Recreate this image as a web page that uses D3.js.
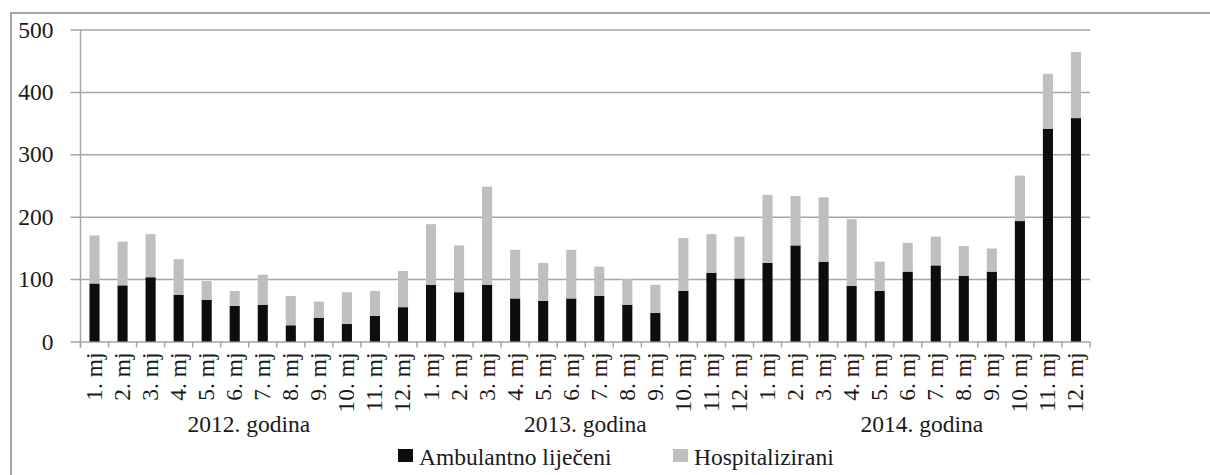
<!DOCTYPE html>
<html>
<head>
<meta charset="utf-8">
<script src="https://cdn.jsdelivr.net/npm/d3@7"></script>
<style>
  body { margin: 0; background: #fff; }
  svg text { font-family: "Liberation Serif", "Times New Roman", "DejaVu Serif", serif; }
</style>
</head>
<body>
<svg id="chart"></svg>
<script>
const years = ["2012. godina", "2013. godina", "2014. godina"];
const months = ["1. mj", "2. mj", "3. mj", "4. mj", "5. mj", "6. mj", "7. mj", "8. mj", "9. mj", "10. mj", "11. mj", "12. mj"];
const ambulantno = [93, 90, 103, 75, 67, 57, 59, 26, 38, 28, 41, 55,
  91, 79, 91, 69, 65, 69, 73, 59, 46, 81, 110, 101,
  126, 154, 128, 89, 81, 112, 122, 105, 112, 193, 341, 358];
const hospitalizirani = [77, 70, 69, 57, 30, 24, 48, 47, 26, 51, 40, 58,
  97, 75, 157, 78, 61, 78, 47, 41, 45, 85, 62, 67,
  109, 79, 103, 107, 47, 46, 46, 48, 37, 73, 88, 106];
const yTicks = [0, 100, 200, 300, 400, 500];

const width = 1210;
const height = 475;
const plotLeft = 80.5, plotRight = 1090, plotTop = 29.5, plotBottom = 341.5;
const serif = "Liberation Serif";
const fontSize = 23.5;
const textColor = "#1a1a1a";
const lineColor = "#a6a6a6";

const rows = [];
years.forEach((yr, yi) => months.forEach((m, mi) => {
  const i = yi * 12 + mi;
  rows.push({ key: i, year: yr, month: m, amb: ambulantno[i], hosp: hospitalizirani[i] });
}));

const svg = d3.select("#chart").attr("width", width).attr("height", height);

// outer frame
svg.append("rect")
  .attr("x", 11).attr("y", 13).attr("width", 1230).attr("height", 500)
  .attr("fill", "none").attr("stroke", lineColor).attr("stroke-width", 2);

const x = d3.scaleBand().domain(rows.map(d => d.key)).range([plotLeft, plotRight]).paddingInner(0.64).paddingOuter(0.32);
const y = d3.scaleLinear().domain([0, 500]).range([plotBottom, plotTop]);

// grid lines + y labels
const yAxis = d3.axisLeft(y).tickValues(yTicks).tickSize(-(plotRight - plotLeft)).tickPadding(27);
const gy = svg.append("g").attr("transform", `translate(${plotLeft},0)`).call(yAxis)
  .attr("font-family", serif);
gy.select(".domain").remove();
gy.selectAll(".tick line").attr("x1", -10).attr("stroke", lineColor).attr("stroke-width", 1.5);
gy.selectAll(".tick text").attr("font-size", fontSize).attr("fill", textColor);

// left axis line
svg.append("line")
  .attr("x1", plotLeft).attr("x2", plotLeft).attr("y1", plotTop).attr("y2", plotBottom + 6)
  .attr("stroke", lineColor).attr("stroke-width", 1.5);

const stack = d3.stack().keys(["amb", "hosp"])(rows);
const colors = { amb: "#0d0d0d", hosp: "#bfbfbf" };

svg.append("g").selectAll("g")
  .data(stack)
  .join("g")
  .attr("fill", s => colors[s.key])
  .selectAll("rect")
  .data(s => s)
  .join("rect")
  .attr("x", d => x(d.data.key))
  .attr("width", x.bandwidth())
  .attr("y", d => y(d[1]))
  .attr("height", d => y(d[0]) - y(d[1]));

// category boundary ticks
const step = x.step();
const boundaries = d3.range(rows.length + 1).map(i => plotLeft + i * step);
svg.append("g").selectAll("line")
  .data(boundaries)
  .join("line")
  .attr("x1", d => d).attr("x2", d => d)
  .attr("y1", plotBottom).attr("y2", plotBottom + 6)
  .attr("stroke", lineColor).attr("stroke-width", 1.5);

// month labels (rotated)
svg.append("g").selectAll("text")
  .data(rows)
  .join("text")
  .attr("transform", d => `translate(${x(d.key) + x.bandwidth() / 2 + 7.5},${plotBottom + 11}) rotate(-90)`)
  .attr("text-anchor", "end")
  .attr("font-family", serif)
  .attr("font-size", fontSize)
  .attr("fill", textColor)
  .text(d => d.month);

// year labels
svg.append("g").selectAll("text")
  .data(years)
  .join("text")
  .attr("x", (d, i) => plotLeft + (i * 12 + 6) * step)
  .attr("y", 432)
  .attr("text-anchor", "middle")
  .attr("font-family", serif)
  .attr("font-size", fontSize)
  .attr("fill", textColor)
  .text(d => d);

// legend
const legend = [
  { label: "Ambulantno liječeni", color: colors.amb, x: 398 },
  { label: "Hospitalizirani", color: colors.hosp, x: 673 }
];
const lg = svg.append("g").selectAll("g").data(legend).join("g")
  .attr("transform", d => `translate(${d.x},449)`);
lg.append("rect").attr("width", 15).attr("height", 13).attr("fill", d => d.color);
lg.append("text").attr("x", 21).attr("y", 15.5)
  .attr("font-family", serif)
  .attr("font-size", fontSize).attr("fill", textColor)
  .text(d => d.label);
</script>
</body>
</html>
